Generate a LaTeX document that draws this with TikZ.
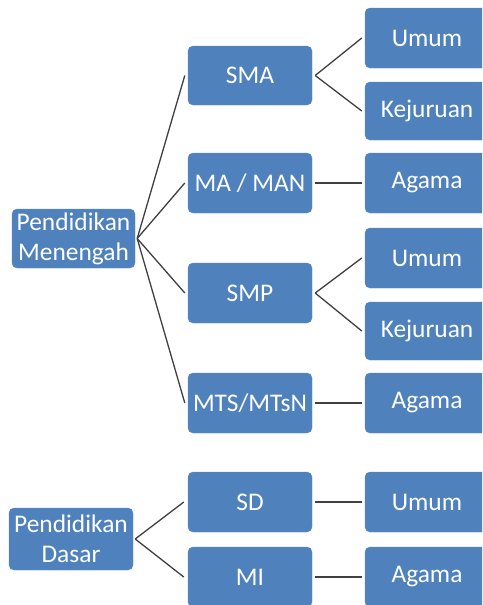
\documentclass[tikz,border=0pt]{standalone}
\usepackage{fontspec}
\setmainfont{Carlito}
\definecolor{boxblue}{HTML}{4F81BD}
\definecolor{boxline}{HTML}{5A8AC6}
\definecolor{linegray}{HTML}{404040}
\begin{document}
\begin{tikzpicture}[x=1pt,y=-1pt,
  box/.style={draw=boxline, fill=boxblue, rounded corners=5pt, text=white,
    minimum width=124pt, minimum height=59pt, inner sep=0pt,
    font=\fontsize{25.4}{30}\selectfont, align=center},
  conn/.style={draw=linegray, line width=1.3pt}]
\useasboundingbox (0,0) rectangle (482,605);
\fill[white] (0,0) rectangle (482,605);
\begin{scope}
\clip (0,0) rectangle (482,605);
% left level
\node[box, minimum width=123pt] (PM) at (73.5,238.5) {Pendidikan\\Menengah};
\node[box, minimum height=62pt] (PD) at (71,539) {Pendidikan\\Dasar};
% middle level
\node[box] (SMA) at (250,75.5) {SMA};
\node[box, minimum height=60pt] (MAMAN) at (250,183) {MA / MAN};
\node[box, minimum height=60pt] (SMP) at (250,293) {SMP};
\node[box, minimum height=60pt] (MTS) at (250,403) {MTS/MTsN};
\node[box, minimum height=60pt] (SD) at (250,502) {SD};
\node[box, minimum height=60pt] (MI) at (250,577) {MI};
% right level
\node[box, minimum height=60pt] (U1) at (427,38) {Umum};
\node[box, minimum height=58pt] (K1) at (427,111) {Kejuruan};
\node[box, minimum height=60pt] (A1) at (427,183) {Agama};
\node[box, minimum height=60pt] (U2) at (427,258) {Umum};
\node[box, minimum height=58pt] (K2) at (427,331) {Kejuruan};
\node[box, minimum height=60pt] (A2) at (427,403) {Agama};
\node[box, minimum height=60pt] (U3) at (427,502) {Umum};
\node[box, minimum height=60pt] (A3) at (427,577) {Agama};
\end{scope}
% connectors
\foreach \t in {SMA,MAMAN,SMP,MTS}
  \draw[conn] ([xshift=2pt]PM.east) -- ([xshift=-3pt]\t.west);
\foreach \t in {SD,MI}
  \draw[conn] ([xshift=2pt]PD.east) -- ([xshift=-4pt]\t.west);
\draw[conn] ([xshift=3pt]SMA.east) -- ([xshift=-3pt]U1.west);
\draw[conn] ([xshift=3pt]SMA.east) -- ([xshift=-3pt]K1.west);
\draw[conn] ([xshift=3pt]SMP.east) -- ([xshift=-3pt]U2.west);
\draw[conn] ([xshift=3pt]SMP.east) -- ([xshift=-3pt]K2.west);
\draw[conn] ([xshift=3pt]MAMAN.east) -- ([xshift=-3pt]A1.west);
\draw[conn] ([xshift=3pt]MTS.east) -- ([xshift=-3pt]A2.west);
\draw[conn] ([xshift=3pt]SD.east) -- ([xshift=-3pt]U3.west);
\draw[conn] ([xshift=3pt]MI.east) -- ([xshift=-3pt]A3.west);
\end{tikzpicture}
\end{document}
